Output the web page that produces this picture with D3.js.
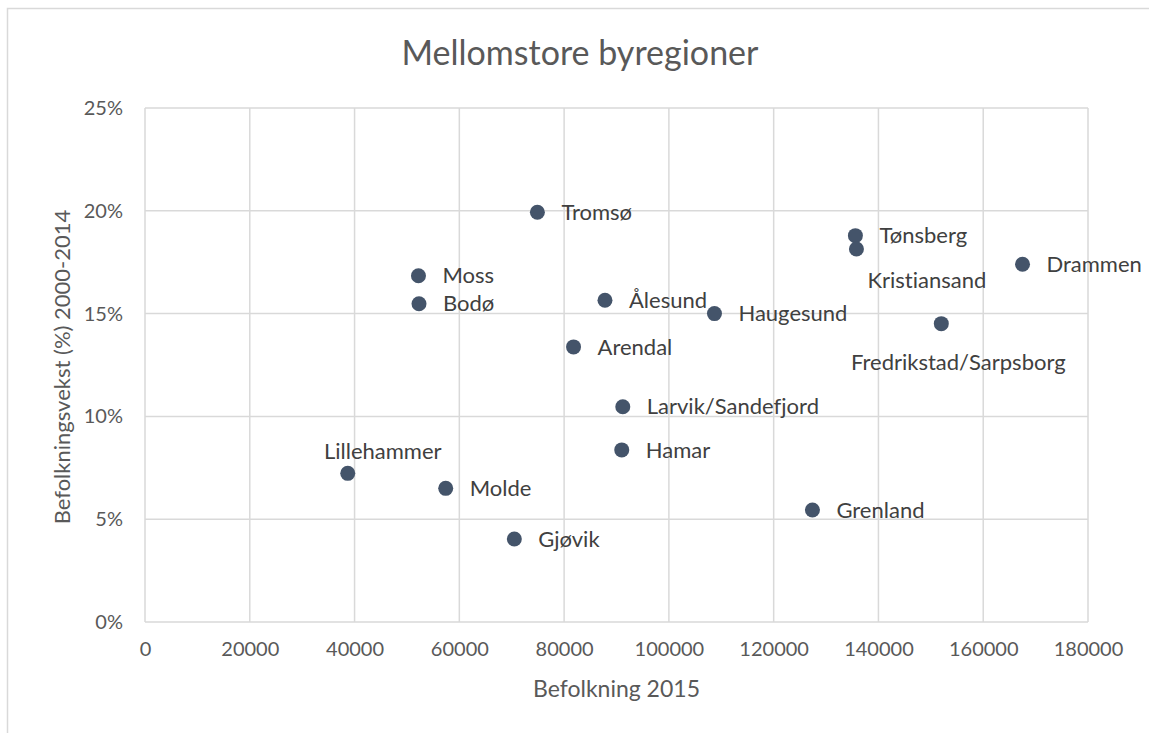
<!DOCTYPE html>
<html>
<head>
<meta charset="utf-8">
<script src="https://cdn.jsdelivr.net/npm/d3@7"></script>
<style>
  body { margin: 0; background: #fff; }
  svg text { font-family: Lato, "Open Sans", sans-serif; font-variant-ligatures: none; }
</style>
</head>
<body>
<div id="root"></div>
<script>
// data
const regions = ['Tromsø', 'Moss', 'Bodø', 'Ålesund', 'Haugesund', 'Arendal', 'Tønsberg', 'Kristiansand',
  'Drammen', 'Fredrikstad/Sarpsborg', 'Larvik/Sandefjord', 'Hamar', 'Lillehammer', 'Molde', 'Grenland', 'Gjøvik'];
const population2015 = [74900, 52200, 52300, 87800, 108700, 81800, 135600, 135800,
  167500, 152000, 91200, 91000, 38700, 57400, 127400, 70500];
const growth = [0.1993, 0.1684, 0.1548, 0.1565, 0.1500, 0.1338, 0.1879, 0.1814,
  0.1740, 0.1451, 0.1047, 0.0837, 0.0723, 0.0650, 0.0545, 0.0404];
const xTicks = [0, 20000, 40000, 60000, 80000, 100000, 120000, 140000, 160000, 180000];
const yTicks = [0, 0.05, 0.10, 0.15, 0.20, 0.25];

// label placement (layout only): default is right of the marker
const labelPlace = {
  'Kristiansand': { dx: 11, dy: 31, anchor: 'start' },
  'Fredrikstad/Sarpsborg': { dx: 17, dy: 39, anchor: 'middle' },
  'Lillehammer': { dx: 35, dy: -22, anchor: 'middle' }
};

const w = 1149, h = 733;
const margin = { left: 145, right: 61, top: 108, bottom: 111 };

const svg = d3.select('#root').append('svg')
  .attr('width', w)
  .attr('height', h);

// chart frame (cropped at right / bottom like the screenshot)
svg.append('rect')
  .attr('x', 7.5).attr('y', 8.5)
  .attr('width', w + 20).attr('height', h + 20)
  .attr('fill', 'none')
  .attr('stroke', '#d9d9d9')
  .attr('stroke-width', 1.5);

const x = d3.scaleLinear().domain([0, 180000]).range([margin.left, w - margin.right]);
const y = d3.scaleLinear().domain([0, 0.25]).range([h - margin.bottom, margin.top]);

// gridlines
svg.append('g')
  .selectAll('line.vgrid')
  .data(xTicks)
  .enter().append('line')
  .attr('x1', d => x(d)).attr('x2', d => x(d))
  .attr('y1', y(0)).attr('y2', y(0.25))
  .attr('stroke', '#d9d9d9').attr('stroke-width', 1.5);

svg.append('g')
  .selectAll('line.hgrid')
  .data(yTicks)
  .enter().append('line')
  .attr('x1', x(0)).attr('x2', x(180000))
  .attr('y1', d => y(d)).attr('y2', d => y(d))
  .attr('stroke', '#d9d9d9').attr('stroke-width', 1.5);

// axes (labels only)
const xAxis = d3.axisBottom(x).tickValues(xTicks).tickFormat(d3.format('d')).tickSize(0).tickPadding(20);
const yAxis = d3.axisLeft(y).tickValues(yTicks).tickFormat(d3.format('.0%')).tickSize(0).tickPadding(22);

svg.append('g')
  .attr('transform', `translate(0,${y(0)})`)
  .call(xAxis)
  .call(g => g.select('.domain').remove())
  .selectAll('text')
  .attr('fill', '#595959')
  .style('font-size', '20px');

svg.append('g')
  .attr('transform', `translate(${x(0)},0)`)
  .call(yAxis)
  .call(g => g.select('.domain').remove())
  .selectAll('text')
  .attr('fill', '#595959')
  .style('font-size', '20px');

// titles
svg.append('text')
  .attr('x', 580).attr('y', 65)
  .attr('text-anchor', 'middle')
  .attr('fill', '#595959')
  .style('font-size', '34px')
  .text('Mellomstore byregioner');

svg.append('text')
  .attr('x', (x(0) + x(180000)) / 2).attr('y', 697)
  .attr('text-anchor', 'middle')
  .attr('fill', '#595959')
  .style('font-size', '23px')
  .text('Befolkning 2015');

svg.append('text')
  .attr('transform', `translate(70,${(y(0) + y(0.25)) / 2 + 2})rotate(-90)`)
  .attr('text-anchor', 'middle')
  .attr('fill', '#595959')
  .style('font-size', '22px')
  .text('Befolkningsvekst (%) 2000-2014');

// points
const points = regions.map((name, i) => ({ name, pop: population2015[i], g: growth[i] }));

svg.append('g')
  .selectAll('circle')
  .data(points)
  .enter().append('circle')
  .attr('cx', d => x(d.pop))
  .attr('cy', d => y(d.g))
  .attr('r', 7.5)
  .attr('fill', '#44546a');

svg.append('g')
  .selectAll('text')
  .data(points)
  .enter().append('text')
  .attr('x', d => x(d.pop) + (labelPlace[d.name] ? labelPlace[d.name].dx : 24))
  .attr('y', d => y(d.g) + (labelPlace[d.name] ? labelPlace[d.name].dy : 0))
  .attr('dy', '0.35em')
  .attr('text-anchor', d => labelPlace[d.name] ? labelPlace[d.name].anchor : 'start')
  .attr('fill', '#404040')
  .style('font-size', '22px')
  .text(d => d.name);
</script>
</body>
</html>
